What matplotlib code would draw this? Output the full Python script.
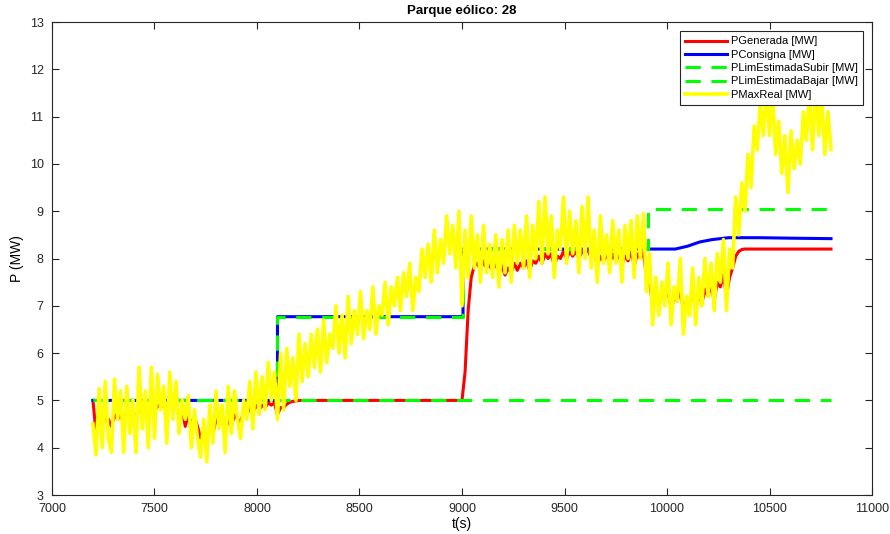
import numpy as np
import matplotlib.pyplot as plt

plt.rcParams['font.family'] = ['Liberation Sans', 'DejaVu Sans']

# time grid of the sampled signals (s)
t = np.arange(7200, 10801, 15)

# PMaxReal [MW]
p_max_real = [
    4.5, 3.85, 5.25, 4.0, 5.4, 4.2, 3.9, 5.45, 4.6, 5.2,
    3.9, 5.3, 4.3, 5.0, 3.9, 5.7, 4.4, 5.2, 4.0, 5.7,
    4.2, 5.55, 4.8, 5.3, 4.1, 5.6, 4.6, 5.4, 4.3, 5.0,
    4.6, 5.1, 4.0, 4.8, 4.2, 3.8, 4.6, 3.7, 4.9, 4.1,
    5.2, 4.4, 4.9, 3.9, 5.3, 4.3, 5.2, 4.6, 4.2, 5.0,
    4.6, 5.4, 4.4, 5.6, 4.7, 5.5, 4.8, 5.8, 5.0, 5.6,
    4.6, 6.0, 4.8, 6.1, 5.3, 5.9, 5.0, 6.4, 5.4, 6.2,
    5.5, 6.4, 5.7, 6.5, 5.6, 6.7, 5.8, 6.4, 6.1, 7.0,
    6.0, 6.8, 5.9, 7.2, 6.2, 6.9, 6.4, 7.3, 6.3, 6.9,
    6.5, 7.4, 6.4, 7.0, 6.8, 7.5, 6.6, 7.4, 7.0, 7.6,
    6.9, 7.7, 7.2, 7.9, 6.9, 7.6, 7.3, 8.2, 7.6, 8.3,
    7.5, 8.6, 7.7, 8.4, 7.9, 8.9, 8.1, 8.7, 7.8, 9.0,
    7.0, 8.6, 7.6, 8.9, 7.8, 8.5, 7.5, 8.7, 7.7, 8.3,
    7.6, 8.5, 7.4, 8.4, 7.7, 8.6, 7.5, 8.7, 7.9, 8.6,
    7.8, 8.9, 7.6, 8.7, 8.0, 9.2, 7.9, 9.3, 8.1, 8.9,
    7.6, 8.6, 8.2, 9.3, 7.9, 9.0, 8.1, 8.8, 7.7, 9.1,
    8.0, 9.3, 7.8, 8.6, 7.5, 8.9, 7.9, 8.5, 7.7, 8.8,
    7.9, 8.6, 7.5, 8.7, 8.0, 8.8, 7.6, 8.9, 8.0, 8.95,
    7.3, 8.1, 6.6, 7.6, 6.8, 7.5, 7.0, 7.9, 6.6, 7.4,
    7.1, 8.0, 6.4, 7.2, 6.8, 7.8, 6.6, 7.6, 7.0, 8.0,
    7.2, 7.9, 6.9, 8.1, 7.5, 8.4, 6.9, 8.2, 7.8, 9.3,
    8.5, 9.6, 9.0, 10.2, 9.5, 10.8, 10.3, 11.3, 10.6, 11.6,
    10.6, 11.5, 10.2, 10.9, 9.8, 10.6, 9.4, 10.7, 9.9, 10.5,
    10.0, 11.1, 10.5, 11.5, 10.3, 11.7, 10.6, 11.4, 10.2, 11.1,
    10.3,
]

# PGenerada [MW]
p_generada = [
    5.0, 4.3, 4.6, 4.4, 4.7, 4.6, 4.45, 4.7, 4.6, 4.7,
    4.5, 4.7, 4.6, 4.8, 4.6, 4.85, 4.75, 4.9, 4.7, 4.9,
    4.75, 4.9, 4.85, 4.95, 4.8, 4.95, 4.85, 4.95, 4.7, 4.85,
    4.45, 4.7, 4.5, 4.65, 4.45, 4.2, 4.35, 4.15, 4.45, 4.3,
    4.6, 4.5, 4.7, 4.35, 4.6, 4.45, 4.7, 4.6, 4.55, 4.75,
    4.7, 4.85, 4.75, 4.9, 4.8, 4.9, 4.85, 4.95, 4.9, 4.95,
    4.7, 4.85, 4.85, 4.92, 4.96, 4.98, 4.99, 5.0, 5.0, 5.0,
] + [5.0] * 50 + [
    5.0, 5.6, 6.9, 7.6, 7.85, 7.9, 7.75, 7.95, 7.8, 7.85,
    7.75, 7.9, 7.7, 7.85, 7.65, 7.8, 7.7, 7.9, 7.75, 7.9,
    7.8, 7.95, 7.75, 7.95, 7.9, 8.05, 7.9, 8.1, 8.0, 8.1,
    7.85, 8.05, 8.0, 8.15, 8.0, 8.15, 8.05, 8.15, 8.0, 8.15,
    8.1, 8.2, 8.0, 8.15, 7.85, 8.05, 7.95, 8.1, 7.9, 8.1,
    7.95, 8.1, 7.85, 8.05, 7.95, 8.15, 7.85, 8.1, 8.0, 8.15,
    7.6, 7.5, 7.0, 7.3, 7.0, 7.25, 7.1, 7.4, 6.9, 7.2,
    7.1, 7.35, 6.9, 7.1, 7.0, 7.3, 6.95, 7.25, 7.05, 7.35,
    7.2, 7.45, 7.1, 7.5, 7.4, 7.65, 7.2, 7.6, 7.8, 8.05,
    8.15, 8.19,
] + [8.2] * 29

# PConsigna [MW]
t_consigna = [7200, 8100, 8100, 9005, 9005, 10040, 10100, 10160, 10220,
              10300, 10450, 10600, 10800]
p_consigna = [5.0, 5.0, 6.77, 6.77, 8.2, 8.2, 8.26, 8.35, 8.40,
              8.44, 8.44, 8.43, 8.42]

# PLimEstimadaSubir / PLimEstimadaBajar [MW]
t_subir = [7200, 8100, 8100, 9005, 9005, 9905, 9905, 10800]
p_subir = [5.0, 5.0, 6.77, 6.77, 8.2, 8.2, 9.04, 9.04]
t_bajar = [7200, 10800]
p_bajar = [5.0, 5.0]

fig = plt.figure(figsize=(8.9, 5.34), dpi=100)
ax = fig.add_axes([0.0584, 0.073, 0.9214, 0.8858])

ax.plot(t, p_generada, color='red', lw=2.2, label='PGenerada [MW]')
ax.plot(t_consigna, p_consigna, color='blue', lw=2.2, label='PConsigna [MW]')
ax.plot(t_subir, p_subir, color='#00ff00', lw=2.2, dashes=(5, 3.5),
        label='PLimEstimadaSubir [MW]')
ax.plot(t_bajar, p_bajar, color='#00ff00', lw=2.2, dashes=(5, 3.5),
        label='PLimEstimadaBajar [MW]')
ax.plot(t, p_max_real, color='yellow', lw=2.6, label='PMaxReal [MW]')

ax.set_xlim(7000, 11000)
ax.set_ylim(3, 13)
ax.set_xticks(np.arange(7000, 11001, 500))
ax.set_yticks(np.arange(3, 14, 1))
ax.tick_params(direction='in', labelsize=9, top=True, right=True, length=5,
               colors='#262626')
ax.tick_params(axis='x', pad=6)
ax.tick_params(axis='y', pad=6)
for side in ax.spines.values():
    side.set_color('#262626')
ax.set_xlabel('t(s)', fontsize=10, labelpad=1)
ax.set_ylabel('P (MW)', fontsize=10)
ax.set_title('Parque eólico: 28', fontsize=9.5, fontweight='bold')

leg = ax.legend(loc='upper right', fontsize=8, fancybox=False,
                edgecolor='#262626', framealpha=1, handlelength=3.8,
                borderaxespad=0.8, labelspacing=0.3, handletextpad=0.3,
                borderpad=0.5)
leg.get_frame().set_linewidth(0.8)

fig.savefig('out.png', dpi=100)
